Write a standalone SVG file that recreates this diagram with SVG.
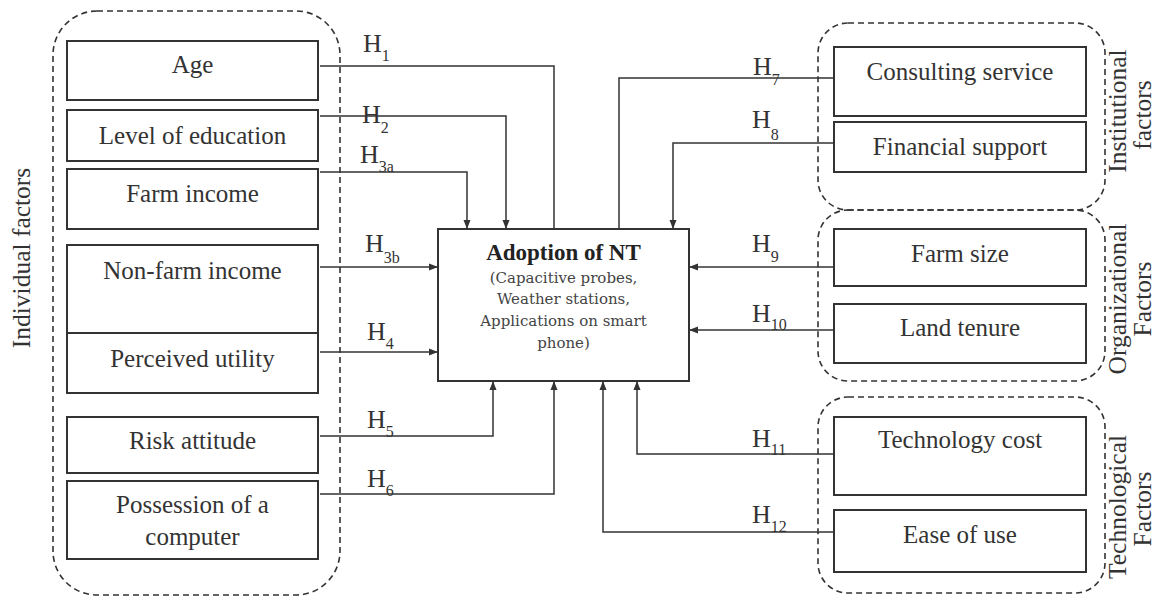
<svg xmlns="http://www.w3.org/2000/svg" width="1157" height="599" viewBox="0 0 1157 599">
<style>
  .bg { fill: #ffffff; }
  .grp { fill: none; stroke: #333; stroke-width: 1.6; stroke-dasharray: 6 4; }
  .box { fill: #ffffff; stroke: #333; stroke-width: 2; }
  .lbl { font-family: "Liberation Serif", "Times New Roman", serif; font-size: 25px; fill: #333; text-anchor: middle; }
  .glbl { font-family: "Liberation Serif", "Times New Roman", serif; font-size: 25.5px; fill: #333; text-anchor: middle; }
  .h { font-family: "Liberation Serif", "Times New Roman", serif; font-size: 26px; fill: #333; }
  .sub { font-size: 16px; }
  .conn { fill: none; stroke: #333; stroke-width: 1.5; }
  .title { font-family: "Liberation Serif", "Times New Roman", serif; font-size: 23px; font-weight: bold; fill: #222; text-anchor: middle; }
  .desc { font-family: "DejaVu Serif", "Liberation Serif", serif; font-size: 15px; fill: #444; text-anchor: middle; }
</style>
<defs>
  <marker id="arr" markerWidth="10" markerHeight="8" refX="9" refY="4" orient="auto" markerUnits="userSpaceOnUse">
    <path d="M0,0.5 L9,4 L0,7.5 Z" fill="#333"/>
  </marker>
</defs>
<rect class="bg" x="0" y="0" width="1157" height="599"/>

<g id="group-individual">
  <rect class="grp" x="53" y="11" width="287" height="584" rx="44" ry="44"/>
  <text class="glbl" transform="translate(30,258) rotate(-90)">Individual factors</text>
</g>
<g id="group-institutional">
  <rect class="grp" x="818" y="23" width="287" height="187" rx="30" ry="30"/>
  <text class="glbl" transform="translate(1126,111) rotate(-90)">Institutional</text>
  <text class="glbl" transform="translate(1151,115) rotate(-90)">factors</text>
</g>
<g id="group-organizational">
  <rect class="grp" x="818" y="210" width="287" height="171" rx="30" ry="30"/>
  <text class="glbl" transform="translate(1126,299) rotate(-90)">Organizational</text>
  <text class="glbl" transform="translate(1151,299) rotate(-90)">Factors</text>
</g>
<g id="group-technological">
  <rect class="grp" x="818" y="397" width="287" height="196" rx="30" ry="30"/>
  <text class="glbl" transform="translate(1126,507) rotate(-90)">Technological</text>
  <text class="glbl" transform="translate(1151,509) rotate(-90)">Factors</text>
</g>

<g id="connectors">
  <path class="conn" d="M320,66 H554 V229"/>
  <path class="conn" d="M320,116 H506 V229" marker-end="url(#arr)"/>
  <path class="conn" d="M320,172 H467 V229" marker-end="url(#arr)"/>
  <path class="conn" d="M320,267 H438" marker-end="url(#arr)"/>
  <path class="conn" d="M320,352 H438" marker-end="url(#arr)"/>
  <path class="conn" d="M320,436 H493 V381" marker-end="url(#arr)"/>
  <path class="conn" d="M320,494 H554 V381" marker-end="url(#arr)"/>
  <path class="conn" d="M833,78 H619 V229"/>
  <path class="conn" d="M833,143 H673 V229" marker-end="url(#arr)"/>
  <path class="conn" d="M833,267 H689" marker-end="url(#arr)"/>
  <path class="conn" d="M833,330 H689" marker-end="url(#arr)"/>
  <path class="conn" d="M833,454 H637 V381" marker-end="url(#arr)"/>
  <path class="conn" d="M833,532 H603 V381" marker-end="url(#arr)"/>
  <text class="h" x="363" y="52">H<tspan class="sub" dy="9">1</tspan></text>
  <text class="h" x="362" y="123">H<tspan class="sub" dy="10">2</tspan></text>
  <text class="h" x="360" y="163">H<tspan class="sub" dy="9">3a</tspan></text>
  <text class="h" x="365" y="252">H<tspan class="sub" dy="11">3b</tspan></text>
  <text class="h" x="367" y="340">H<tspan class="sub" dy="9">4</tspan></text>
  <text class="h" x="367" y="428">H<tspan class="sub" dy="9">5</tspan></text>
  <text class="h" x="367" y="487">H<tspan class="sub" dy="9">6</tspan></text>
  <text class="h" x="753" y="75">H<tspan class="sub" dy="10">7</tspan></text>
  <text class="h" x="752" y="128">H<tspan class="sub" dy="12">8</tspan></text>
  <text class="h" x="752" y="252">H<tspan class="sub" dy="10">9</tspan></text>
  <text class="h" x="752" y="322">H<tspan class="sub" dy="8">10</tspan></text>
  <text class="h" x="752" y="447">H<tspan class="sub" dy="8">11</tspan></text>
  <text class="h" x="752" y="523">H<tspan class="sub" dy="9">12</tspan></text>
</g>

<g id="node-age">
  <rect class="box" x="67" y="41" width="251" height="59"/>
  <text class="lbl" x="192.5" y="73">Age</text>
</g>
<g id="node-education">
  <rect class="box" x="67" y="110" width="251" height="51"/>
  <text class="lbl" x="192.5" y="144">Level of education</text>
</g>
<g id="node-farm-income">
  <rect class="box" x="67" y="169" width="251" height="60"/>
  <text class="lbl" x="192.5" y="202">Farm income</text>
</g>
<g id="node-nonfarm-income">
  <rect class="box" x="67" y="245" width="251" height="88"/>
  <text class="lbl" x="192.5" y="279">Non-farm income</text>
</g>
<g id="node-perceived-utility">
  <rect class="box" x="67" y="333" width="251" height="60"/>
  <text class="lbl" x="192.5" y="367">Perceived utility</text>
</g>
<g id="node-risk">
  <rect class="box" x="67" y="417" width="251" height="56"/>
  <text class="lbl" x="192.5" y="449">Risk attitude</text>
</g>
<g id="node-computer">
  <rect class="box" x="67" y="481" width="251" height="78"/>
  <text class="lbl" x="192.5" y="513">Possession of a</text>
  <text class="lbl" x="192.5" y="545">computer</text>
</g>

<g id="node-adoption">
  <rect class="box" x="438" y="229" width="251" height="152"/>
  <text class="title" x="563.5" y="260">Adoption of NT</text>
  <text class="desc" x="563.5" y="283">(Capacitive probes,</text>
  <text class="desc" x="563.5" y="304">Weather stations,</text>
  <text class="desc" x="563.5" y="326">Applications on smart</text>
  <text class="desc" x="563.5" y="348">phone)</text>
</g>

<g id="node-consulting">
  <rect class="box" x="834" y="47" width="252" height="69"/>
  <text class="lbl" x="960" y="80">Consulting service</text>
</g>
<g id="node-financial">
  <rect class="box" x="834" y="122" width="252" height="50"/>
  <text class="lbl" x="960" y="155">Financial support</text>
</g>
<g id="node-farm-size">
  <rect class="box" x="834" y="229" width="252" height="57"/>
  <text class="lbl" x="960" y="262">Farm size</text>
</g>
<g id="node-land-tenure">
  <rect class="box" x="834" y="304" width="252" height="59"/>
  <text class="lbl" x="960" y="336">Land tenure</text>
</g>
<g id="node-tech-cost">
  <rect class="box" x="834" y="417" width="252" height="78"/>
  <text class="lbl" x="960" y="448">Technology cost</text>
</g>
<g id="node-ease">
  <rect class="box" x="834" y="510" width="252" height="62"/>
  <text class="lbl" x="960" y="543">Ease of use</text>
</g>
</svg>
